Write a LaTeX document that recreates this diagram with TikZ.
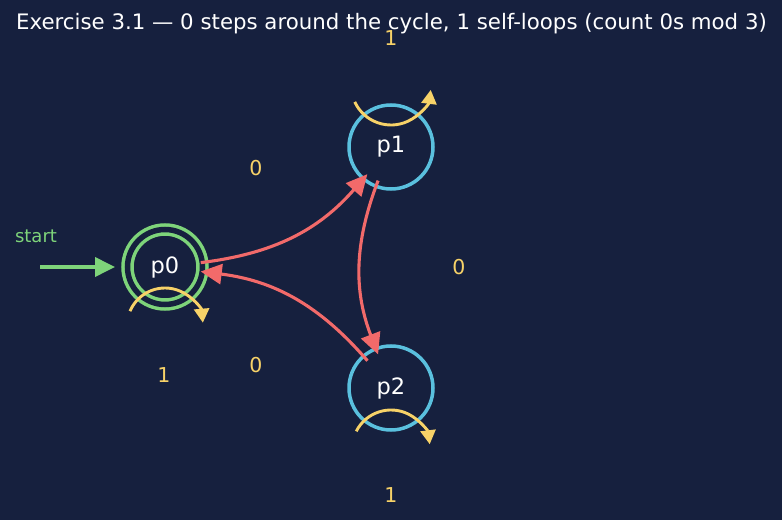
\documentclass[tikz,border=0pt]{standalone}
\usepackage{fontspec}
\setmainfont{DejaVu Sans}
\usepackage{tikz}
\usetikzlibrary{calc,positioning,arrows.meta}

\definecolor{bgnavy}{RGB}{22,32,62}
\definecolor{accgreen}{RGB}{126,212,122}
\definecolor{statecyan}{RGB}{90,192,222}
\definecolor{edgered}{RGB}{242,106,106}
\definecolor{loopyellow}{RGB}{247,210,104}

\tikzset{
  state/.style={circle, draw=statecyan, line width=3.5pt, minimum size=84pt,
    inner sep=0pt, outer sep=-6pt, text=white, font=\fontsize{22.5}{22.5}\selectfont},
  accepting/.style={circle, draw=accgreen, line width=3.5pt, double=bgnavy,
    double distance=5.5pt, minimum size=75pt, inner sep=0pt, outer sep=-1.5pt,
    text=white, font=\fontsize{22.5}{22.5}\selectfont},
  trans/.style={draw=edgered, line width=3.1pt, -{Triangle[length=21pt,width=20pt]}},
  selfloop/.style={draw=loopyellow, line width=2.9pt, -{Triangle[length=14pt,width=15pt]}},
  edgelab/.style={text=loopyellow, font=\fontsize{20.5}{20.5}\selectfont},
}

\begin{document}
\begin{tikzpicture}[x=1pt, y=1pt]
				 \fill[bgnavy] (0,0) rectangle (782,520);
				 \useasboundingbox (0,0) rectangle (782,520);
				 %\draw[color=gray,step=10pt, help lines,opacity=0.3] (0,0) grid (782,520); %help grids
				 \node[text=white, font=\fontsize{21.3}{21.3}\selectfont, anchor=base] (title) at (391.5,490)
				   {Exercise 3.1 — 0 steps around the cycle, 1 self-loops (count 0s mod 3)};
				 % the states
				 \node[accepting] (p0) at (165,253) {p0};
				 \node[state] (p1) at (391,373) {p1};
				 \node[state] (p2) at (391,132) {p2};
				 % start arrow
				 \coordinate (s0) at (40,253);
				 \node[text=accgreen, font=\fontsize{18}{18}\selectfont] (startlab) at (36,284) {start};
				 \draw[draw=accgreen, line width=3.8pt, -{Triangle[length=20pt,width=19pt]},
				   shorten >=14pt] (s0)--(p0);
				 % lines...
				 \draw[trans] (p0) to[bend right=21] (p1);
				 \draw[trans] (p1) to[bend right=21] (p2);
				 \draw[trans] (p2) to[bend right=21] (p0);
				 % self-loops
				 \coordinate (c0) at ($(p0)+(0,-59)$);
				 \coordinate (c1) at ($(p1)+(0,62)$);
				 \coordinate (c2) at ($(p2)+(0,-61)$);
				 \draw[selfloop] ($(c0)+(157:38)$) arc[start angle=157, end angle=5, radius=38];
				 \draw[selfloop] ($(c1)+(205:40)$) arc[start angle=205, end angle=353, radius=40];
				 \draw[selfloop] ($(c2)+(153:39)$) arc[start angle=153, end angle=7, radius=39];
				 % Drawing the labels
				 \node[edgelab] (l01) at (256,352) {0};
				 \node[edgelab] (l12) at (459,253) {0};
				 \node[edgelab] (l20) at (256,155) {0};
				 \node[edgelab] (l00) at (164,145) {1};
				 \node[edgelab] (l11) at (391,482) {1};
				 \node[edgelab] (l22) at (391,25) {1};
\end{tikzpicture}
\end{document}
